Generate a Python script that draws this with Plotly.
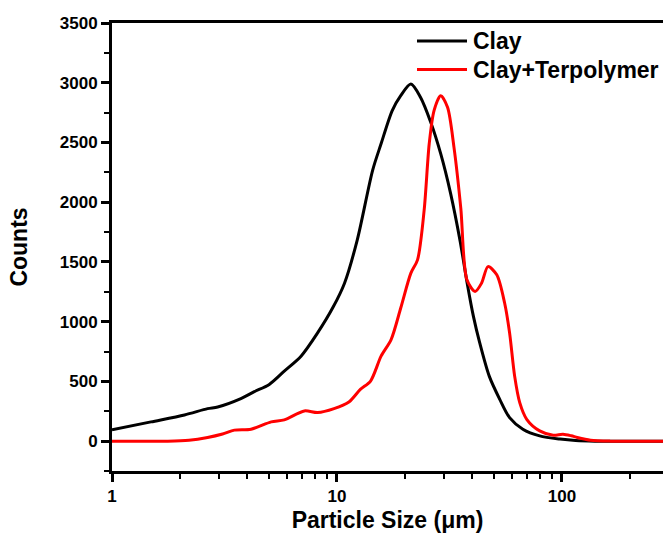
import plotly.graph_objects as go

clay_x = [1.0, 1.49, 2.10, 2.66, 2.95, 3.74, 4.29, 5.0, 5.83, 6.92, 8.2, 9.6, 10.8, 12.3,
          14.4, 15.7, 17.6, 19.2, 21.3, 23.5, 26.1, 28.9, 32.0, 35.3, 37.9, 40.4, 43.1,
          47.5, 52.9, 58.5, 67.0, 79.6, 98, 115, 140, 290]
clay_y = [94, 161, 219, 272, 286, 356, 414, 475, 586, 711, 906, 1120, 1322, 1683,
          2267, 2489, 2767, 2892, 2989, 2878, 2669, 2406, 2072, 1670, 1322, 1044, 822,
          544, 350, 197, 100, 44, 17, 5, 0, 0]

terp_x = [1.0, 1.77, 2.2, 2.66, 3.1, 3.5, 4.15, 5.1, 5.83, 7.16, 8.2, 9.7, 11.3, 12.7,
          14.1, 15.7, 17.4, 19.2, 21.3, 22.8, 24.4, 25.7, 27.0, 28.9, 31.0, 33.1, 35.5,
          37.8, 41.1, 43.9, 46.9, 51.3, 55.6, 58.5, 61.6, 64.9, 69.7, 79.6, 91.4, 101,
          110, 117, 134, 164, 290]
terp_y = [0, 0, 8, 31, 60, 92, 100, 161, 178, 253, 239, 272, 328, 433,
          503, 711, 850, 1114, 1406, 1517, 1933, 2489, 2767, 2892, 2794, 2461, 1950,
          1350, 1253, 1322, 1461, 1392, 1156, 906, 544, 322, 183, 86, 50, 58,
          45, 31, 8, 0, 0]

series_names = ["Clay", "Clay+Terpolymer"]
series_colors = ["black", "#ff0000"]

major_x = [1, 10, 100]
major_text = ["1", "10", "100"]
minor_x = [2, 3, 4, 5, 6, 7, 8, 9, 20, 30, 40, 50, 60, 70, 80, 90, 200]

FONT = "Liberation Sans, Arial, sans-serif"

fig = go.Figure()
for xs, ys, nm, col in [(clay_x, clay_y, series_names[0], series_colors[0]),
                        (terp_x, terp_y, series_names[1], series_colors[1])]:
    fig.add_trace(go.Scatter(x=xs, y=ys, mode="lines", name=nm, showlegend=False,
                             line=dict(color=col, width=3, shape="spline", smoothing=0.8)))

# manual legend (line samples + text)
L, T, W, H = 112, 23, 551, 448
def px(x):
    return (x - L) / W
def py(y):
    return (T + H - y) / H

for i, (nm, col) in enumerate(zip(series_names, series_colors)):
    yy = py(41 + 28.5 * i)
    fig.add_shape(type="line", xref="paper", yref="paper",
                  x0=px(417), x1=px(467), y0=yy, y1=yy,
                  line=dict(color=col, width=3))
    fig.add_annotation(xref="paper", yref="paper", x=px(471), y=yy,
                       xanchor="left", yanchor="middle", text=nm, showarrow=False,
                       font=dict(size=23, weight="bold", color="black", family=FONT))

fig.update_layout(
    width=663, height=545,
    margin=dict(l=L, r=663 - L - W, t=T, b=545 - T - H),
    plot_bgcolor="white", paper_bgcolor="white",
    font=dict(family=FONT, color="black", size=17, weight="bold"),
    showlegend=False,
)
fig.update_xaxes(
    type="log", range=[0, 2.449], automargin=False,
    showline=True, linewidth=3, linecolor="black", mirror=True,
    showgrid=False, zeroline=False,
    tickmode="array", tickvals=major_x, ticktext=major_text,
    ticks="outside", ticklen=8, tickwidth=3, tickcolor="black",
    minor=dict(tickmode="array", tickvals=minor_x, ticks="outside", ticklen=5,
               tickwidth=2, tickcolor="black", showgrid=False),
    tickfont=dict(size=17, weight="bold"),
    title=dict(text="Particle Size (μm)", font=dict(size=23, weight="bold"), standoff=7),
)
fig.update_yaxes(
    range=[-250, 3500], automargin=False,
    showline=True, linewidth=3, linecolor="black", mirror=True,
    showgrid=False, zeroline=False,
    tickmode="linear", tick0=0, dtick=500,
    ticks="outside", ticklen=8, tickwidth=3, tickcolor="black",
    minor=dict(tickmode="linear", dtick=250, ticks="outside", ticklen=5,
               tickwidth=2, tickcolor="black", showgrid=False),
    tickfont=dict(size=17, weight="bold"),
    title=dict(text="Counts", font=dict(size=23, weight="bold"), standoff=26),
)

fig.write_html("out.html")
